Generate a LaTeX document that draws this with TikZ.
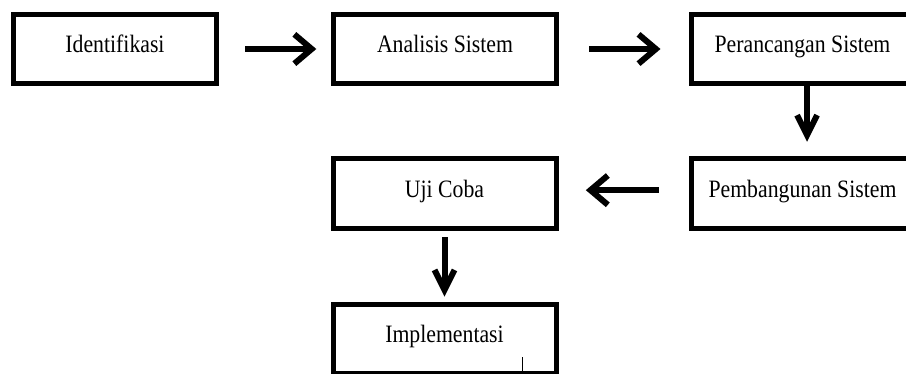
\documentclass[tikz,border=0pt]{standalone}
\usepackage{fontspec}
\setmainfont{Liberation Serif}[FakeStretch=0.87]
\usepackage{tikz}
\usetikzlibrary{arrows.meta}

\begin{document}
\begin{tikzpicture}[
        x=0.75pt, y=-0.75pt,
        box/.style={draw, rectangle, line width=3.75pt, align=center,
            minimum width=167.25pt, minimum height=51.75pt,
            text height=12.4pt, text depth=7.1pt,
            font=\fontsize{18.75}{22}\selectfont},
        flow/.style={line width=4.5pt, -{Straight Barb[length=13pt, width=22pt]}},
        flowdown/.style={flow, -{Straight Barb[length=15pt, width=15pt]}}
    ]
    \useasboundingbox (0,0) rectangle (906,374);
    \clip (0,0) rectangle (906,374);

    % Baris 1
    \node[box, minimum width=152.25pt] (idf) at (115,49) {Identifikasi};
    \node[box] (ana) at (445,49) {Analisis Sistem};
    \node[box] (per) at (802.5,49) {Perancangan Sistem};
    % Baris 2
    \node[box] (pem) at (802.5,193.5) {Pembangunan Sistem};
    \node[box] (uji) at (444.5,193.5) {Uji Coba};
    % Baris 3
    \node[box] (imp) at (444.5,339) {Implementasi};

    % Panah
    \draw[flow, shorten <=19.5pt, shorten >=11pt] (idf) -- (ana);
    \draw[flow, shorten <=22.5pt, shorten >=21pt] (ana) -- (per);
    \draw[flowdown, shorten >=11pt] ([xshift=3.4pt]per.south) -- ([xshift=3.4pt]pem.north);
    \draw[flow, shorten <=22.5pt, shorten >=20.5pt] ([yshift=2.5pt]pem.west) -- ([yshift=2.5pt]uji.east);
    \draw[flowdown, shorten <=5pt, shorten >=4pt] (uji) -- (imp);

    % garis kursor
    \draw[line width=0.75pt] (522,357) -- (522,374);
\end{tikzpicture}
\end{document}
